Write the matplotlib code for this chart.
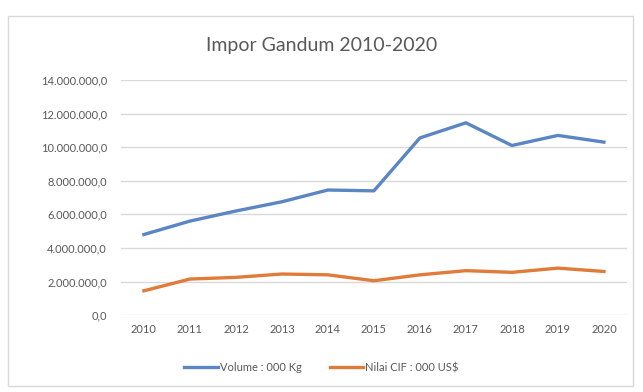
import matplotlib.pyplot as plt
from matplotlib.patches import Rectangle
from matplotlib.ticker import FuncFormatter

years = ['2010', '2011', '2012', '2013', '2014', '2015', '2016', '2017', '2018', '2019', '2020']
volume = [4.8e6, 5.6e6, 6.2e6, 6.75e6, 7.45e6, 7.4e6, 10.55e6, 11.45e6, 10.1e6, 10.7e6, 10.3e6]
nilai_cif = [1.45e6, 2.15e6, 2.25e6, 2.45e6, 2.4e6, 2.05e6, 2.4e6, 2.65e6, 2.55e6, 2.8e6, 2.6e6]

plt.rcParams['font.family'] = ['Lato', 'DejaVu Sans']

def fmt(v, pos):
    s = f"{v:,.1f}"
    return s.replace(',', 'X').replace('.', ',').replace('X', '.')

fig = plt.figure(figsize=(6.43, 3.92), dpi=100)
fig.patches.append(Rectangle((0.012, 0.015), 0.972, 0.945, transform=fig.transFigure,
                             fill=False, edgecolor='#d9d9d9', lw=1))
ax = fig.add_axes([0.188, 0.196, 0.787, 0.6])

x = range(len(years))
ax.plot(x, volume, color='#5b86c4', lw=2.4, label='Volume : 000 Kg')
ax.plot(x, nilai_cif, color='#e07b39', lw=2.4, label='Nilai CIF : 000 US$')

ax.set_xlim(-0.5, len(years) - 0.5)
ax.set_ylim(0, 14e6)
ax.set_yticks(range(0, 14000001, 2000000))
ax.yaxis.set_major_formatter(FuncFormatter(fmt))
ax.set_xticks(list(x))
ax.set_xticklabels(years)
ax.grid(axis='y', color='#d9d9d9', lw=1)
ax.set_axisbelow(True)
for s in ax.spines.values():
    s.set_visible(False)
ax.tick_params(length=0, labelsize=8, colors='#595959')
ax.tick_params(axis='y', pad=10)
ax.tick_params(axis='x', pad=6)

fig.text(0.5, 0.885, 'Impor Gandum 2010-2020', ha='center', va='center', fontsize=14, color='#595959')
fig.legend(loc='center', bbox_to_anchor=(0.5, 0.062), ncol=2, frameon=False, fontsize=8,
           labelcolor='#595959', handlelength=3, columnspacing=2.5, handletextpad=0.2)

fig.savefig('out.png', dpi=100)
